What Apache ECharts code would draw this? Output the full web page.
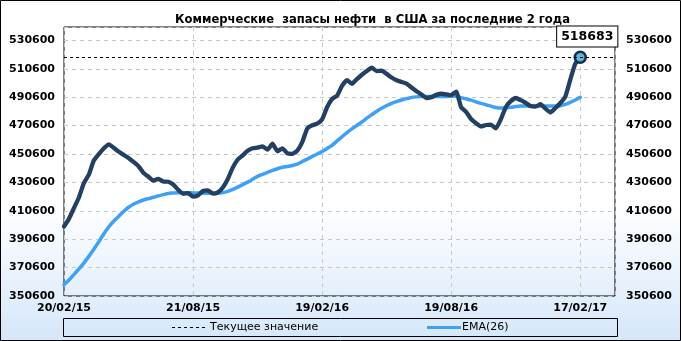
<!DOCTYPE html>
<html>
<head>
<meta charset="utf-8">
<script src="https://cdn.jsdelivr.net/npm/echarts@6/dist/echarts.min.js"></script>
<style>
html,body{margin:0;padding:0;background:#fff;}
#chart{width:681px;height:341px;}
</style>
</head>
<body>
<div id="chart"></div>
<script>
// Weekly commercial crude stocks, 20/02/15 .. 17/02/17 (index = week number)
const tickLabels = ['20/02/15', '21/08/15', '19/02/16', '19/08/16', '17/02/17'];
const stocks = [399500,405000,412500,420000,430000,436000,446000,450500,454500,457400,
455000,452300,450000,447800,445000,442000,437300,434600,431800,433100,
431200,431000,429100,425400,422600,423000,420500,421500,424500,425000,
422700,423600,427000,433000,441000,446700,449600,452900,454600,455100,
456000,453600,457800,452500,454600,451000,450700,453000,459000,468500,
470800,471900,474900,483500,489300,491600,498500,502600,500000,503300,
506400,509000,511300,509000,509200,507000,504400,502500,501300,500100,
497400,494800,492500,490000,490600,492200,493000,492600,492000,494500,
483500,480300,475200,472300,470000,471000,471200,468600,475000,483500,
487800,490000,488500,486600,484300,484000,485600,482500,479800,483000,
486500,491000,503000,514200,518683];
const ema26 = [358500,361800,365700,369700,373800,378500,383500,388700,394300,399200,
403200,406600,410100,413100,415200,416800,418200,419200,420100,421100,
422000,422800,423100,423300,423300,423300,423200,423100,423000,423000,
423000,423000,423400,424300,425600,427300,429000,430800,432800,434800,
436300,437700,439000,440200,441200,441800,442500,443400,445300,447000,
448800,450600,452300,454500,456700,459800,462700,465600,468300,470600,
473100,475800,478300,480700,482800,484700,486300,487500,488600,489600,
490400,490800,491000,491000,491000,491000,491000,491100,491200,491300,
490200,489400,488500,487300,486200,485300,484300,483300,482900,483000,
483400,484000,484400,484400,484400,484400,484400,484400,484400,484400,
484600,485500,487000,488600,490500];
const legendNames = ['Текущее значение', 'EMA(26)'];
const currentValue = stocks[stocks.length - 1];

const FONT = 'DejaVu Sans';
const lastIdx = stocks.length - 1;
const stockData = stocks.map((v, i) => {
  if (i === lastIdx) {
    return {
      value: [i, v],
      symbol: 'circle', symbolSize: 11,
      itemStyle: {color: '#62b6c9', borderColor: '#0f2e5c', borderWidth: 2.5},
      label: {
        show: true, position: 'top', distance: 4, offset: [7, 0],
        formatter: String(v),
        color: '#000', fontFamily: FONT, fontWeight: 'bold', fontSize: 12.5,
        backgroundColor: '#fff', borderColor: '#000', borderWidth: 1,
        padding: [4, 4, 3, 4]
      }
    };
  }
  return {value: [i, v], symbol: 'none'};
});
const emaData = ema26.map((v, i) => [i, v]);

const yLabel = {color: '#000', fontFamily: FONT, fontWeight: 'bold', fontSize: 11, showMaxLabel: false,
  formatter: v => String(v)};
const yAxisCommon = {
  type: 'value', min: 350600, max: 540000, interval: 20000,
  axisLine: {show: false}, axisTick: {show: false}
};

const chart = echarts.init(document.getElementById('chart'), null, {renderer: 'canvas'});
chart.setOption({
  animation: false,
  backgroundColor: {type: 'linear', x: 0, y: 0, x2: 0, y2: 1,
    colorStops: [{offset: 0, color: '#ffffff'}, {offset: 0.6, color: '#ffffff'}, {offset: 1, color: '#d5e7fa'}]},
  title: {
    text: 'Коммерческие  запасы нефти  в США за последние 2 года',
    left: 170, top: 9,
    textStyle: {fontFamily: FONT, fontWeight: 'bold', fontSize: 11.6, color: '#000'}
  },
  grid: {left: 64, right: 66, top: 27, bottom: 45, show: true, borderColor: '#000', borderWidth: 1, backgroundColor: 'transparent'},
  xAxis: {
    type: 'value', min: 0, max: 111, interval: 26,
    axisLine: {show: false}, axisTick: {show: false},
    splitLine: {show: true, lineStyle: {color: '#c8c8c8', type: [4, 4]}},
    axisLabel: {
      color: '#000', fontFamily: FONT, fontWeight: 'bold', fontSize: 11, margin: 7,
      showMaxLabel: false,
      formatter: v => tickLabels[Math.round(v / 26)] || ''
    }
  },
  yAxis: [
    Object.assign({}, yAxisCommon, {position: 'left',
      splitLine: {show: true, lineStyle: {color: '#c8c8c8', type: [4, 4]}},
      axisLabel: Object.assign({}, yLabel, {margin: 9})}),
    Object.assign({}, yAxisCommon, {position: 'right', splitLine: {show: false},
      axisLabel: Object.assign({}, yLabel, {margin: 11})})
  ],
  series: [
    {
      name: legendNames[0], type: 'line', data: [], symbol: 'none',
      lineStyle: {color: '#000', width: 1, type: [3, 3]},
      markLine: {silent: true, symbol: 'none', label: {show: false},
        lineStyle: {color: '#000', width: 1, type: [3, 3]},
        data: [{yAxis: currentValue}]}
    },
    {
      name: legendNames[1], type: 'line', data: emaData, symbol: 'none', smooth: 0.3,
      lineStyle: {color: '#3ea1f5', width: 3.5, cap: 'round', join: 'round'}, z: 3
    },
    {
      name: 'Запасы', type: 'line', data: stockData, smooth: 0.15,
      lineStyle: {color: '#233f62', width: 4.3, cap: 'round', join: 'round'}, itemStyle: {color: '#233f62'}, z: 4
    }
  ],
  graphic: [
    {type: 'rect', shape: {x: 63.5, y: 318.5, width: 554, height: 18}, style: {fill: 'none', stroke: '#000', lineWidth: 1}, silent: true},
    {type: 'line', shape: {x1: 172, y1: 327.5, x2: 205, y2: 327.5}, style: {stroke: '#000', lineWidth: 1, lineDash: [3, 3]}, silent: true},
    {type: 'text', x: 210, y: 327.5, style: {text: legendNames[0], fill: '#000', font: '11px "DejaVu Sans"', textVerticalAlign: 'middle'}, silent: true},
    {type: 'line', shape: {x1: 427, y1: 327.5, x2: 461, y2: 327.5}, style: {stroke: '#3ea1f5', lineWidth: 3}, silent: true},
    {type: 'text', x: 462, y: 327.5, style: {text: legendNames[1], fill: '#000', font: '11px "DejaVu Sans"', textVerticalAlign: 'middle'}, silent: true},
    {type: 'rect', shape: {x: 0.5, y: 0.5, width: 680, height: 340}, style: {fill: 'none', stroke: '#000', lineWidth: 1}, silent: true}
  ]
});
</script>
</body>
</html>
